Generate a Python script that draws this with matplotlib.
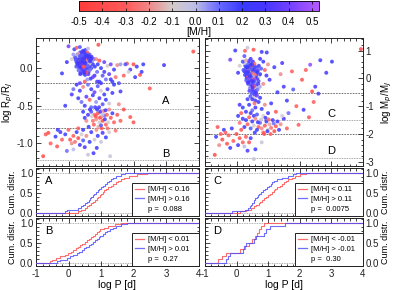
import numpy as np
import matplotlib
matplotlib.use('Agg')
import matplotlib.pyplot as plt
from matplotlib.colors import LinearSegmentedColormap, Normalize
from matplotlib.cm import ScalarMappable
from matplotlib.lines import Line2D
from matplotlib.ticker import MultipleLocator, FormatStrFormatter

plt.rcParams['font.family'] = ['Liberation Sans', 'DejaVu Sans']
plt.rcParams['axes.unicode_minus'] = False
plt.rcParams['font.size'] = 7

# ---------------- data: left panel (logP, logR/RJ, [M/H]) ----------------
left_hot = [
(0.45,0.10,0.20),(0.50,0.05,0.15),(0.38,0.12,0.25),(0.55,0.02,0.30),(0.42,0.00,-0.10),(0.60,0.08,0.18),(0.33,0.15,0.05),(0.48,0.18,0.35),(0.52,-0.03,0.22),(0.40,0.06,-0.25),
(0.57,0.13,0.12),(0.35,0.03,0.28),(0.62,-0.05,0.40),(0.47,0.14,-0.02),(0.30,0.09,0.19),(0.44,-0.07,0.10),(0.66,0.04,0.24),(0.53,0.20,-0.30),(0.39,-0.02,0.33),(0.58,0.16,0.08),
(0.28,0.18,0.21),(0.50,0.11,0.45),(0.63,0.10,-0.15),(0.36,0.21,0.14),(0.46,-0.04,0.27),(0.70,0.00,0.17),(0.41,0.17,-0.40),(0.55,0.07,0.02),(0.32,0.01,0.31),(0.60,0.19,0.11),
(0.25,0.08,0.23),(0.49,0.02,-0.18),(0.68,0.14,0.36),(0.37,-0.06,0.16),(0.54,0.15,0.26),(0.43,0.22,0.09),(0.72,0.07,-0.08),(0.29,0.13,0.38),(0.51,-0.09,0.20),(0.65,0.18,0.13),
(0.34,0.06,-0.33),(0.45,0.19,0.29),(0.59,-0.01,0.07),(0.40,0.10,0.42),(0.56,0.03,-0.22),(0.27,0.04,0.18),(0.48,0.08,0.25),(0.64,0.12,0.00),(0.38,0.16,0.19),(0.61,-0.08,0.34),
(0.22,0.11,0.15),(0.75,0.05,0.22),(0.44,0.13,-0.12),(0.52,0.24,0.30),(0.31,-0.03,0.10),(0.69,0.09,0.27),(0.47,-0.01,0.39),(0.57,0.21,-0.28),(0.35,0.12,0.21),(0.42,0.04,0.06),
(0.78,0.12,0.14),(0.26,0.16,-0.05),(0.50,0.17,0.24),(0.63,0.01,0.18),(0.39,0.20,0.32),(0.55,-0.06,-0.35),(0.46,0.09,0.11),(0.71,0.15,0.26),(0.33,0.07,0.20),(0.58,0.04,0.44),
(0.20,0.14,0.17),(0.45,0.23,0.23),(0.67,-0.02,0.09),(0.53,0.12,-0.20),(0.36,-0.08,0.28),(0.60,0.14,0.16),(0.41,0.01,0.35),(0.74,0.10,0.03),(0.49,0.20,0.19),(0.30,0.19,-0.15),
(0.81,0.02,0.21),(0.43,0.08,0.30),(0.56,0.18,0.12),(0.38,0.02,0.25),(0.65,0.06,-0.10),(0.51,0.13,0.37),(0.24,0.02,0.14),(0.47,0.05,0.22),(0.62,0.16,0.29),(0.34,0.10,-0.26),
(0.15,0.18,0.05),(0.10,0.12,-0.10),(0.00,0.29,0.40),(-0.20,-0.07,0.20),(-0.05,0.08,0.30),(0.18,0.25,0.20),(0.25,0.27,-0.30),(0.35,0.28,0.15),(0.60,0.26,0.00),(0.85,0.12,-0.20),
(0.90,0.05,0.20),(0.88,-0.05,0.10),(0.95,0.10,-0.35),(0.80,-0.10,0.25),(0.75,-0.12,0.40),(0.68,-0.14,0.20),(0.92,0.31,-0.40),
(0.41,0.15,0.22),(0.53,0.09,0.18),(0.37,0.08,0.26),(0.59,0.11,-0.22),(0.44,0.17,0.12),(0.51,0.06,0.31),(0.32,0.11,0.17),(0.66,0.09,0.21),(0.48,0.13,0.27),(0.57,0.00,0.16),
(0.39,0.05,0.35),(0.62,0.13,0.24),(0.46,0.02,-0.31),(0.54,0.17,0.20),(0.35,0.16,0.13),(0.70,0.12,0.29),(0.43,0.11,0.19),(0.49,-0.06,0.23),(0.60,0.03,0.10),(0.28,0.06,0.28),
]
left_warm = [
(1.00,0.00,0.20),(1.10,-0.05,0.30),(1.20,0.03,-0.10),(1.05,-0.10,0.15),(1.30,0.05,0.40),(1.40,-0.02,0.25),(1.50,0.04,-0.20),(1.15,-0.15,0.10),(1.25,-0.08,0.35),(1.60,0.05,0.05),
(1.70,-0.10,-0.30),(1.80,0.06,-0.35),(1.90,-0.02,0.30),(2.00,0.05,-0.40),(2.10,0.02,0.25),(2.20,-0.09,-0.35),(2.30,0.05,0.20),(1.35,-0.18,0.22),(1.45,-0.12,-0.25),(2.50,-0.27,-0.35),
(1.55,-0.20,0.15),(1.00,-0.20,0.30),(0.95,-0.18,0.18),(1.10,0.08,0.38),(2.94,0.04,0.25),(1.75,0.05,0.15),(2.25,-0.05,0.25),(1.85,-0.05,-0.10),(3.84,0.22,-0.40),(2.05,-0.12,0.20),
]
left_mid = [
(0.25,-0.22,0.20),(0.35,-0.30,0.30),(0.45,-0.25,-0.20),(0.60,-0.22,0.10),(0.70,-0.28,0.25),(0.80,-0.32,0.40),(0.90,-0.24,0.15),(1.00,-0.30,-0.10),(1.10,-0.35,0.20),(1.20,-0.28,0.30),
(0.30,-0.40,0.25),(0.40,-0.45,0.10),(0.55,-0.38,0.35),(0.65,-0.42,-0.30),(0.75,-0.36,0.20),(0.85,-0.45,0.05),(0.95,-0.40,0.30),(1.05,-0.48,0.15),(1.15,-0.42,0.22),(1.25,-0.47,-0.05),
(-0.10,-0.50,0.20),(0.50,-0.50,0.28),(0.70,-0.52,0.12),(1.35,-0.33,0.25),(1.60,-0.31,0.30),(1.55,-0.48,-0.20),(0.10,-0.35,0.30),(0.15,-0.28,0.10),(1.40,-0.22,0.20),(0.88,-0.18,0.30),
(0.50,-0.18,-0.35),(0.58,-0.15,0.05),(1.30,-0.15,0.25),(0.35,-0.20,0.40),
]
left_nep = [
(0.80,-0.62,-0.30),(0.85,-0.68,-0.20),(0.90,-0.60,-0.35),(0.95,-0.72,-0.10),(1.00,-0.65,-0.25),(1.05,-0.70,-0.40),(1.10,-0.63,0.10),(1.15,-0.75,-0.30),(0.88,-0.55,0.20),(0.92,-0.78,-0.15),
(0.98,-0.58,0.30),(1.02,-0.80,-0.35),(1.08,-0.57,-0.20),(1.12,-0.68,0.25),(1.18,-0.62,-0.30),(1.22,-0.72,-0.10),(0.75,-0.70,-0.25),(0.70,-0.58,0.15),(0.78,-0.75,-0.30),(0.82,-0.52,0.30),
(1.25,-0.55,-0.20),(1.30,-0.66,-0.35),(1.35,-0.60,0.20),(0.86,-0.82,-0.20),(0.96,-0.66,-0.30),(1.04,-0.62,-0.05),(0.94,-0.52,0.25),(1.00,-0.76,0.15),(0.84,-0.64,-0.40),(1.14,-0.56,0.30),
(0.72,-0.64,-0.10),(1.20,-0.80,-0.25),(0.66,-0.55,0.25),(0.60,-0.62,0.30),(0.55,-0.70,-0.20),(0.62,-0.78,0.20),(1.40,-0.72,-0.30),(1.50,-0.62,-0.35),(1.60,-0.70,-0.30),(1.70,-0.55,-0.40),
(1.90,-0.65,-0.35),(2.00,-0.72,-0.35),(1.45,-0.83,-0.25),(0.45,-0.58,0.20),(0.50,-0.66,0.30),
]
left_low = [
(-0.78,-1.17,-0.40),(-0.62,-0.86,-0.40),(-0.55,-1.00,-0.30),(-0.40,-0.91,0.20),(-0.33,-0.82,0.25),(-0.35,-1.04,-0.35),(-0.20,-0.95,-0.30),(-0.10,-0.88,0.20),(0.00,-0.82,-0.30),(0.05,-0.95,-0.35),
(0.10,-1.00,-0.20),(0.15,-0.90,-0.30),(0.20,-0.98,-0.25),(0.25,-0.85,0.20),(0.30,-0.93,-0.40),(0.35,-1.02,0.25),(0.40,-0.88,-0.10),(0.45,-0.96,0.15),(0.50,-1.05,0.30),(0.55,-0.90,-0.20),
(0.60,-1.15,-0.05),(0.65,-0.98,0.20),(0.70,-0.85,0.30),(0.77,-1.13,0.25),(0.80,-0.95,-0.10),(0.87,-1.06,0.25),(0.90,-0.90,0.20),(1.00,-0.98,-0.05),(1.05,-0.86,0.30),(1.15,-0.92,0.20),
(1.28,-1.17,-0.05),(-0.70,-0.88,-0.35),(-0.25,-0.85,0.30),(0.15,-1.08,0.00),(-0.05,-1.10,0.10),(0.45,-0.82,0.20),(1.25,-0.85,-0.10),(0.30,-0.80,-0.30),
]

# ---------------- data: right panel (logP, logM/MJ, [M/H]) ----------------
right_hot = [
(0.45,0.10,0.20),(0.50,0.00,0.25),(0.40,0.20,0.15),(0.55,-0.10,0.30),(0.42,-0.05,-0.10),(0.60,0.05,0.18),(0.35,0.30,0.05),(0.48,0.35,0.35),(0.52,-0.20,0.22),(0.38,0.15,-0.25),
(0.57,0.25,0.12),(0.33,0.05,0.28),(0.62,-0.25,0.40),(0.47,0.40,-0.02),(0.30,0.20,0.19),(0.44,-0.15,0.10),(0.66,0.00,0.24),(0.53,0.45,-0.30),(0.39,-0.10,0.33),(0.58,0.30,0.08),
(0.28,0.45,0.21),(0.50,0.15,0.45),(0.63,0.20,-0.15),(0.36,0.50,0.14),(0.46,-0.30,0.27),(0.70,-0.10,0.17),(0.41,0.38,-0.40),(0.55,0.10,0.02),(0.32,-0.02,0.31),(0.60,0.42,0.11),
(0.25,0.25,0.23),(0.49,-0.05,-0.18),(0.68,0.28,0.36),(0.37,-0.20,0.16),(0.54,0.32,0.26),(0.43,0.55,0.09),(0.72,0.08,-0.08),(0.29,0.35,0.38),(0.51,-0.40,0.20),(0.65,0.38,0.13),
(0.34,0.10,-0.33),(0.45,0.48,0.29),(0.59,-0.15,0.07),(0.40,0.02,0.42),(0.56,-0.02,-0.22),(0.27,0.12,0.18),(0.48,0.22,0.25),(0.64,-0.35,0.00),(0.38,0.40,0.19),(0.61,-0.45,0.34),
(0.22,0.30,0.15),(0.75,0.15,0.22),(0.44,0.28,-0.12),(0.52,0.60,0.30),(0.31,-0.08,0.10),(0.69,-0.20,0.27),(0.47,-0.25,0.39),(0.57,0.52,-0.28),(0.35,0.18,0.21),(0.42,-0.35,0.06),
(0.78,0.35,0.14),(0.26,0.55,-0.05),(0.50,0.30,0.24),(0.63,0.12,0.18),(0.39,0.62,0.32),(0.55,-0.30,-0.35),(0.46,0.05,0.11),(0.71,0.45,0.26),(0.33,0.40,0.20),(0.58,-0.05,0.44),
(0.20,0.60,0.17),(0.45,0.70,0.23),(0.67,-0.40,0.09),(0.53,0.18,-0.20),(0.36,-0.15,0.28),(0.60,0.25,0.16),(0.41,-0.45,0.35),(0.74,-0.30,0.03),(0.49,0.50,0.19),(0.30,0.65,-0.15),
(0.52,-0.50,0.21),(0.58,-0.60,0.30),(0.48,-0.55,0.12),(0.62,-0.52,0.25),(0.55,-0.70,-0.10),(0.65,-0.62,0.37),(0.44,-0.65,0.14),(0.50,-0.75,0.22),(0.60,-0.80,0.29),(0.57,-0.90,-0.26),
(-0.04,1.00,0.20),(-0.20,0.67,0.40),(0.27,0.99,-0.30),(0.35,1.10,-0.05),(0.54,1.03,-0.35),(0.80,0.95,0.25),(0.96,0.93,0.20),(0.75,0.70,0.30),(0.25,0.80,0.15),(0.85,0.60,0.20),
(0.10,0.45,-0.10),(0.05,0.20,0.30),(0.90,0.30,-0.30),(0.95,0.10,0.25),(1.05,-0.05,0.30),(0.85,-0.20,-0.20),
(0.43,0.08,0.22),(0.53,-0.12,0.18),(0.37,0.25,0.26),(0.59,0.14,-0.22),(0.46,0.35,0.12),(0.51,-0.32,0.31),(0.32,0.15,0.17),(0.66,0.22,0.21),(0.48,-0.08,0.27),(0.57,0.40,0.16),
]
right_warm = [
(1.76,0.25,-0.30),(2.08,-0.05,-0.35),(2.40,-0.47,-0.40),(2.13,-1.13,0.25),(1.97,-1.67,-0.30),(2.50,-0.30,0.25),(3.03,0.60,0.20),(2.66,0.65,0.25),(2.34,0.49,0.45),(3.95,1.05,-0.40),
(1.20,0.40,0.20),(1.40,0.15,-0.20),(1.50,-0.30,0.30),(1.30,-0.50,0.25),(1.60,-0.80,0.20),(1.80,-0.40,0.15),(1.90,-1.00,-0.30),(2.20,0.30,-0.30),(1.10,-0.90,0.25),(1.25,-1.20,-0.35),
(2.60,-0.55,0.30),(2.30,-1.40,-0.35),(1.45,0.55,0.30),(1.00,0.50,-0.20),(2.85,0.20,0.30),(1.65,-1.25,0.10),(2.45,-0.85,-0.30),
]
right_mid = [
(0.40,-0.95,0.20),(0.60,-1.05,0.30),(0.70,-0.85,0.25),(0.50,-1.15,0.10),(0.80,-1.10,0.20),(0.30,-1.20,0.25),(0.45,-1.25,0.30),(0.90,-0.95,-0.20),(0.65,-1.30,0.15),(0.20,-1.05,0.20),
(0.10,-0.95,0.30),(1.00,-1.25,0.25),(0.55,-1.35,0.22),(0.85,-1.35,-0.10),(0.35,-0.75,0.30),(0.75,-0.70,0.20),(0.15,-1.25,-0.30),
]
right_nep = [
(0.70,-1.75,-0.30),(0.80,-1.80,-0.20),(0.90,-1.70,-0.35),(1.00,-1.85,-0.10),(1.10,-1.78,-0.25),(1.20,-1.90,-0.40),(0.75,-1.60,0.10),(0.85,-1.95,-0.30),(0.95,-1.55,0.20),(1.05,-1.65,-0.15),
(1.15,-1.50,0.30),(1.25,-1.72,-0.35),(0.60,-1.45,-0.20),(0.50,-1.55,0.25),(0.40,-1.40,-0.30),(0.30,-1.50,0.20),(0.20,-1.45,0.30),(0.10,-1.60,-0.25),(0.65,-1.85,0.20),(0.55,-1.70,-0.10),
(0.45,-1.80,0.15),(0.35,-1.65,-0.30),(1.30,-1.55,0.25),(1.40,-1.65,-0.20),(1.50,-1.45,0.30),(1.60,-1.80,-0.30),(0.88,-2.00,-0.35),(0.98,-1.90,0.20),(1.08,-2.00,-0.30),(0.78,-1.48,-0.05),
(0.68,-1.58,0.30),(1.18,-1.62,0.10),(0.92,-1.42,0.25),(1.02,-1.48,-0.30),(0.58,-1.95,0.20),(0.25,-1.75,0.25),(1.35,-1.85,0.30),(0.05,-1.35,0.20),(0.15,-1.85,-0.35),(1.45,-1.35,-0.10),
]
right_low = [
(-0.69,-2.75,-0.40),(-0.60,-1.75,-0.35),(-0.50,-2.00,-0.30),(-0.45,-2.20,-0.40),(-0.40,-1.85,0.20),(-0.30,-2.35,-0.35),(-0.25,-2.05,-0.30),(-0.15,-1.80,0.25),(-0.10,-2.25,-0.30),(0.00,-2.00,-0.40),
(0.05,-2.40,0.30),(0.10,-2.15,-0.35),(0.20,-2.30,-0.30),(0.25,-2.45,0.00),(0.30,-2.10,-0.30),(0.40,-2.30,-0.35),(0.55,-2.90,-0.05),(0.60,-2.55,0.20),(-0.55,-2.40,-0.20),(-0.35,-1.95,-0.30),
(0.45,-2.15,0.30),(0.35,-2.60,0.30),(-0.20,-2.50,0.25),(0.80,-2.30,-0.05),(-0.65,-2.10,0.20),
]

# region boundary lines
left_lines_dark = [-0.20, -0.795]
left_lines_light = [-0.54, -1.22]
right_lines_dark = [-0.52, -2.00]
right_lines_light = [-1.50, -2.85]

# ---------------- cumulative distribution samples (logP) ----------------
A_lo = [0.30,0.38,0.50,0.58,0.64,0.70,0.76,0.82,0.87,0.92,0.96,1.00,1.05,1.10,1.16,1.22,1.30,1.38,1.45,1.52,1.60,1.72,1.85,2.10,2.42]
A_hi = [-0.10,-0.05,0.30,0.38,0.45,0.52,0.58,0.62,0.66,0.70,0.74,0.79,0.84,0.90,0.95,1.00,1.06,1.12,1.18,1.25,1.32,1.38,1.45,1.60,1.75]
B_lo = [-0.56,-0.50,-0.40,-0.25,-0.12,-0.02,0.08,0.15,0.22,0.30,0.35,0.42,0.50,0.56,0.62,0.70,0.76,0.82,0.88,0.93,0.98,1.10,1.20,1.42,1.60]
B_hi = [-0.35,-0.25,-0.05,0.05,0.15,0.25,0.32,0.40,0.48,0.55,0.62,0.70,0.75,0.82,0.88,0.94,0.98,1.05,1.12,1.18,1.28,1.36,1.45,1.60,1.80]
C_lo = [0.10,0.30,0.45,0.55,0.62,0.70,0.76,0.82,0.88,0.94,1.00,1.05,1.12,1.18,1.22,1.30,1.38,1.44,1.50,1.58,1.65,1.75,1.85,2.00,2.20]
C_hi = [-0.15,0.27,0.35,0.42,0.46,0.50,0.54,0.57,0.60,0.64,0.68,0.72,0.78,0.85,0.90,0.96,1.02,1.08,1.12,1.20,1.30,1.45,1.62,1.78,1.90]
D_lo = [-0.58,-0.45,-0.32,0.12,0.28,0.40,0.50,0.60,0.66,0.72,0.78,0.86]
D_hi = [-0.32,-0.26,-0.22,0.20,0.24,0.30,0.55,0.62,0.88,0.95,1.05,1.55]

panel_letters = ['A', 'B', 'C', 'D']
legend_lo = ['[M/H] < 0.16', '[M/H] < 0.01', '[M/H] < 0.11', '[M/H] < -0.01']
legend_hi = ['[M/H] > 0.16', '[M/H] > 0.01', '[M/H] > 0.11', '[M/H] > -0.01']
p_values = ['p =  0.088', 'p =  0.27', 'p =  0.0075', 'p =  0.30']
cbar_ticks = [-0.5, -0.4, -0.3, -0.2, -0.1, 0.0, 0.1, 0.2, 0.3, 0.4, 0.5]

# ---------------- styling ----------------
vmin, vmax = -0.5, 0.53
nodes = [(-0.5, '#ff3c3c'), (-0.3, '#ff5a5a'), (-0.2, '#f08888'), (-0.1, '#d4caca'),
         (0.0, '#bcbce8'), (0.1, '#6a6aff'), (0.2, '#3a3aff'), (0.3, '#4636ff'),
         (0.4, '#7040ff'), (0.53, '#b45aff')]
cmap = LinearSegmentedColormap.from_list(
    'mh', [((v - vmin) / (vmax - vmin), c) for v, c in nodes])
norm = Normalize(vmin=vmin, vmax=vmax)

RED = '#ff4a4a'
BLUE = '#4a4aff'

W, H = 399, 290
fig = plt.figure(figsize=(W / 100, H / 100), dpi=100)

def fr(x0, y0, x1, y1):
    return [x0 / W, 1 - y1 / H, (x1 - x0) / W, (y1 - y0) / H]

LX0, LX1 = 36, 198.5
RX0, RX1 = 205, 362.5
ax_L = fig.add_axes(fr(LX0, 38, LX1, 166))
ax_R = fig.add_axes(fr(RX0, 38, RX1, 166))
ax_A = fig.add_axes(fr(LX0, 168, LX1, 216))
ax_B = fig.add_axes(fr(LX0, 218, LX1, 266))
ax_C = fig.add_axes(fr(RX0, 168, RX1, 216))
ax_D = fig.add_axes(fr(RX0, 218, RX1, 266))
cax = fig.add_axes(fr(79, 1, 319, 11))

def style(ax, ymaj, ymin, right=False, xlabels=False):
    ax.set_xlim(-1, 4)
    ax.xaxis.set_major_locator(MultipleLocator(1))
    ax.xaxis.set_minor_locator(MultipleLocator(0.2))
    ax.yaxis.set_major_locator(MultipleLocator(ymaj))
    ax.yaxis.set_minor_locator(MultipleLocator(ymin))
    ax.tick_params(which='both', direction='in', top=True, bottom=True, left=True, right=True,
                   width=0.6, colors='#222222', labelsize=7, pad=2)
    ax.tick_params(which='major', length=3.5)
    ax.tick_params(which='minor', length=1.8)
    ax.tick_params(labelbottom=xlabels, labelleft=not right, labelright=right)
    if right:
        ax.yaxis.set_label_position('right')
    for s in ax.spines.values():
        s.set_linewidth(0.7)
        s.set_color('#222222')

def scatter_panel(ax, groups, dark, light):
    pts = [p for g in groups for p in g]
    P = [p[0] for p in pts]
    Y = [p[1] for p in pts]
    M = [p[2] for p in pts]
    ax.scatter(P, Y, c=M, cmap=cmap, norm=norm, s=8, alpha=0.85, linewidths=0, zorder=2)
    for y in dark:
        ax.axhline(y, color='#444444', lw=0.5, ls=(0, (2.5, 1.5)), zorder=1)
    for y in light:
        ax.axhline(y, color='#8a8a8a', lw=0.6, ls=(0, (1, 1)), zorder=1)

scatter_panel(ax_L, [left_hot, left_warm, left_mid, left_nep, left_low], left_lines_dark, left_lines_light)
ax_L.set_ylim(-1.30, 0.40)
style(ax_L, 0.5, 0.1)
ax_L.yaxis.set_major_formatter(FormatStrFormatter('%.1f'))
ax_L.set_ylabel(r'log R$_p$/R$_J$', fontsize=7, labelpad=1)
ax_L.text(3.0, -0.44, 'A', fontsize=8, ha='center', va='center')
ax_L.text(3.0, -1.14, 'B', fontsize=8, ha='center', va='center')

scatter_panel(ax_R, [right_hot, right_warm, right_mid, right_nep, right_low], right_lines_dark, right_lines_light)
ax_R.set_ylim(-3.15, 1.45)
style(ax_R, 1, 0.2, right=True)
ax_R.set_ylabel(r'log M$_p$/M$_J$', fontsize=7, labelpad=4)
ax_R.text(3.0, -1.27, 'C', fontsize=8, ha='center', va='center')
ax_R.text(3.0, -2.60, 'D', fontsize=8, ha='center', va='center')

def cdf_xy(vals):
    s = sorted(vals)
    n = len(s)
    return [-1] + s + [4], [0] + [(i + 1) / n for i in range(n)] + [1]

cum_axes = [ax_A, ax_B, ax_C, ax_D]
cum_data = [(A_lo, A_hi), (B_lo, B_hi), (C_lo, C_hi), (D_lo, D_hi)]
for i, ax in enumerate(cum_axes):
    lo, hi = cum_data[i]
    right = i >= 2
    ax.axhline(0, color='#999999', lw=0.6, ls=(0, (1, 1)), zorder=1)
    ax.axhline(1, color='#999999', lw=0.6, ls=(0, (1, 1)), zorder=1)
    x, y = cdf_xy(lo)
    ax.step(x, y, where='post', color=RED, lw=0.8, alpha=0.8, zorder=3)
    x, y = cdf_xy(hi)
    ax.step(x, y, where='post', color=BLUE, lw=0.8, alpha=0.8, zorder=3)
    ax.set_ylim(-0.08, 1.12)
    style(ax, 0.5, 0.1, right=right, xlabels=(i % 2 == 1))
    ax.yaxis.set_major_formatter(FormatStrFormatter('%.1f'))
    ax.set_ylabel('Cum. distr.', fontsize=6.5, labelpad=2)
    ax.text(-0.62, 0.80, panel_letters[i], fontsize=8, ha='center', va='center')
    handles = [Line2D([], [], color=RED, lw=0.9, alpha=0.8),
               Line2D([], [], color=BLUE, lw=0.9, alpha=0.8),
               Line2D([], [], color='none')]
    x0 = 0.59 if not right else 0.57
    leg = ax.legend(handles, [legend_lo[i], legend_hi[i], p_values[i]],
                    loc='lower left', bbox_to_anchor=(x0, 0.0, 1 - x0, 0.8), mode='expand',
                    borderaxespad=0, fontsize=5.5, handlelength=1.1, handletextpad=0.6,
                    labelspacing=0.3, borderpad=0.45, fancybox=False, framealpha=1)
    leg.get_frame().set_edgecolor('#222222')
    leg.get_frame().set_linewidth(0.7)
    leg.set_zorder(5)
    if i % 2 == 1:
        ax.set_xlabel('log P [d]', fontsize=7.5, labelpad=1)

sm = ScalarMappable(norm=norm, cmap=cmap)
cb = fig.colorbar(sm, cax=cax, orientation='horizontal', ticks=cbar_ticks)
cb.ax.set_xticklabels(['%.1f' % t for t in cbar_ticks])
cb.ax.tick_params(direction='in', length=2.5, width=0.5, labelsize=7, pad=4, top=True)
cb.outline.set_linewidth(0.6)
cb.set_label('[M/H]', fontsize=7.5, labelpad=0)

fig.savefig('out.png', dpi=100)
